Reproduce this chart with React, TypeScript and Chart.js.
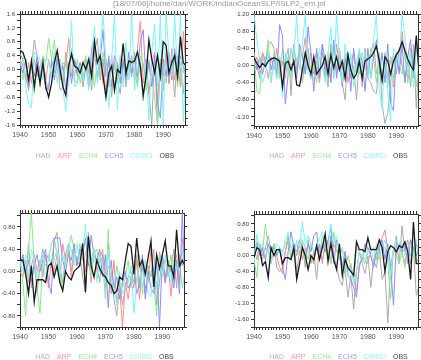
import React, { useEffect, useRef } from 'react';
import { Chart, registerables } from 'chart.js';
Chart.register(...registerables);

const TITLE = '[18/07/06]/home/dan/WORK/indianOceanSLP/ISLP2_em.jnl';
const SERIES_NAMES = ['HAD', 'ARP', 'ECH4', 'ECH5', 'CSIRO', 'OBS'];
const LINE_COLORS = ['#aaaaaa', '#ff8c8c', '#8ce68c', '#8c8cff', '#7af5f5', '#1a1a1a'];
const TEXT_COLORS = ['#b4b4b4', '#ff9a9a', '#9aeb9a', '#9a9aff', '#9af5f5', '#444444'];
const DRAW_ORDER = [5, 4, 3, 2, 1, 0];

const YEARS = [1940, 1941, 1942, 1943, 1944, 1945, 1946, 1947, 1948, 1949,
  1950, 1951, 1952, 1953, 1954, 1955, 1956, 1957, 1958, 1959,
  1960, 1961, 1962, 1963, 1964, 1965, 1966, 1967, 1968, 1969,
  1970, 1971, 1972, 1973, 1974, 1975, 1976, 1977, 1978, 1979,
  1980, 1981, 1982, 1983, 1984, 1985, 1986, 1987, 1988, 1989,
  1990, 1991, 1992, 1993, 1994, 1995, 1996, 1997, 1998];
const X_TICK_YEARS = [1940, 1941, 1942, 1943, 1944, 1945, 1946, 1947, 1948, 1949,
  1950, 1951, 1952, 1953, 1954, 1955, 1956, 1957, 1958, 1959,
  1960, 1961, 1962, 1963, 1964, 1965, 1966, 1967, 1968, 1969,
  1970, 1971, 1972, 1973, 1974, 1975, 1976, 1977, 1978, 1979,
  1980, 1981, 1982, 1983, 1984, 1985, 1986, 1987, 1988, 1989,
  1990, 1991, 1992, 1993, 1994, 1995, 1996, 1997];
const X_LABEL_YEARS = [1940, 1950, 1960, 1970, 1980, 1990];
const X_MIN = 1940;
const X_MAX = 1997.6;

// ---------- Top-left panel ----------
const TL_HAD = [0.45,0.30,-0.20,-0.60,0.10,0.85,0.40,-0.20,0.35,-0.30,
  -0.60,0.30,-0.10,0.40,-0.60,-0.50,0.50,-0.20,0.50,-0.30,
  -0.40,0.20,-0.50,0.10,0.20,-0.60,0.50,0.90,-0.30,0.30,
  -0.70,0.40,-0.80,0.20,-0.30,-0.70,0.30,-0.50,0.20,-0.20,
  0.50,-0.40,0.30,-0.90,-0.20,-0.70,-1.60,0.40,-1.60,0.20,
  -0.60,0.50,-0.40,0.30,-0.80,0.40,0.00,-0.70,0.30];
const TL_ARP = [0.30,0.10,-0.30,0.20,-0.40,0.30,-0.20,0.10,0.20,-0.30,
  0.30,-0.20,0.40,0.00,-0.30,0.20,0.10,0.90,-0.20,0.30,
  -0.20,0.10,-0.30,0.30,-0.10,0.40,0.60,-0.30,0.20,-0.40,
  0.30,-0.50,0.40,-0.60,0.20,-0.30,0.30,-0.20,0.10,0.40,
  -0.30,0.60,1.40,-0.40,0.30,-0.70,0.20,0.50,-0.90,0.30,
  -0.20,0.40,-0.40,0.60,-0.30,0.30,-0.50,1.10,0.00];
const TL_ECH4 = [0.30,-0.30,0.20,-0.40,0.10,-0.70,0.30,-0.50,0.40,0.20,
  0.90,0.30,0.85,-0.10,0.30,-0.40,0.20,-0.30,0.60,-0.20,
  0.30,-0.40,0.10,0.40,-0.30,0.20,-0.50,0.30,-0.20,0.50,
  -0.10,0.30,-0.60,0.20,-0.40,0.40,-0.30,0.10,-0.20,0.30,
  0.00,-0.50,0.40,0.20,-0.60,0.30,-0.20,-0.80,-1.60,0.30,
  0.10,-0.40,0.40,-0.20,0.30,-0.50,0.20,-0.10,0.30];
const TL_ECH5 = [0.20,-0.10,0.30,-0.50,0.20,-0.20,0.40,-0.30,0.10,-0.60,
  -0.50,0.20,-0.30,0.30,-0.20,0.10,-0.60,0.20,-0.40,0.30,
  -0.10,0.20,-0.30,0.10,-0.50,0.60,0.90,-0.20,0.30,1.15,
  -0.20,0.30,-0.50,0.40,0.10,-0.40,0.20,-0.30,0.50,-0.10,
  0.30,-0.20,0.80,1.15,-0.30,0.20,-0.50,0.40,-1.00,-1.40,
  0.30,-0.20,0.50,-0.30,0.60,-0.20,0.40,0.10,-0.20];
const TL_CSIRO = [0.60,0.50,-0.50,-1.00,-1.10,0.50,0.40,0.30,-0.30,0.30,
  0.30,-0.20,0.50,-0.40,0.30,-0.60,-1.20,-0.30,1.40,-0.50,
  -0.40,0.10,-0.30,0.20,-0.60,0.30,1.25,-0.40,0.60,1.60,
  0.20,-1.10,0.30,1.60,-1.15,0.40,-0.50,0.80,-0.30,1.60,
  -0.60,0.50,0.30,-0.90,0.20,-1.45,0.50,1.30,-0.50,1.60,
  -1.60,1.60,0.40,-0.20,1.60,-0.30,1.60,-1.50,0.40];
const TL_OBS = [0.54,0.50,0.25,-0.30,0.25,-0.50,0.10,-0.40,0.20,-0.50,
  -0.80,-0.40,0.20,0.55,0.00,-0.50,-0.75,0.10,0.45,0.10,
  0.05,-0.10,0.20,0.00,0.30,-0.20,0.80,0.20,0.40,-0.20,
  -0.80,-0.10,0.10,-0.60,0.00,-0.10,0.75,-0.10,0.25,0.20,
  0.25,0.50,0.10,-0.75,-0.20,0.85,0.30,-0.10,0.40,-0.20,
  0.80,0.70,-0.10,0.20,0.40,-0.20,0.95,0.20,0.10];
const TL_Y_TICKS = [-1.6,-1.4,-1.2,-1.0,-0.8,-0.6,-0.4,-0.2,0,0.2,0.4,0.6,0.8,1.0,1.2,1.4,1.6];
const TL_Y_LABELS = [-1.6,-1.2,-0.8,-0.4,0,0.4,0.8,1.2,1.6];

// ---------- Top-right panel ----------
const TR_HAD = [-0.10,0.00,-0.30,0.30,0.10,0.50,0.55,0.40,-0.20,0.20,
  -0.60,0.10,0.40,-0.70,0.50,-0.10,0.30,-0.40,0.20,0.40,
  -0.30,0.10,0.30,-0.20,0.50,0.10,-0.50,0.50,-0.30,0.50,
  0.00,-0.40,-0.80,0.30,-0.30,0.00,-0.80,0.20,-0.50,0.40,
  -0.30,-0.40,-0.60,-0.65,0.20,-0.90,-1.35,-1.10,-0.40,0.30,
  -0.20,0.40,0.00,-0.30,0.10,-0.50,0.50,-1.00,0.30];
const TR_ARP = [0.00,0.20,-0.20,0.30,0.10,-0.30,0.20,-0.10,0.40,-0.20,
  0.10,-0.30,0.20,0.00,0.10,-0.20,0.30,0.20,0.65,-0.10,
  0.30,-0.20,0.10,-0.40,0.30,-0.10,0.20,-0.30,0.50,-0.20,
  0.40,-0.10,0.20,-0.40,0.00,0.30,-0.20,0.10,-0.30,0.20,
  -0.10,0.30,0.55,-0.20,0.10,-0.40,0.30,-0.30,0.20,-0.50,
  0.30,-0.10,0.80,0.20,-0.30,0.40,-0.20,0.60,-0.10];
const TR_ECH4 = [0.30,-0.60,-0.65,0.20,0.00,0.60,-0.40,0.30,0.10,-0.30,
  0.40,-0.10,0.20,-0.30,0.35,0.10,0.35,0.30,-0.20,0.20,
  -0.30,0.10,-0.40,0.20,0.00,-0.30,0.30,-0.20,0.40,-0.10,
  0.20,-0.40,0.30,-0.10,0.20,-0.30,0.10,-0.20,0.30,0.00,
  -0.30,0.40,0.20,-0.40,0.30,-0.20,0.10,-0.50,0.20,-0.30,
  0.20,0.00,-0.20,0.30,-0.40,0.10,0.20,-0.50,0.10];
const TR_ECH5 = [0.30,-0.10,0.20,-0.20,0.10,0.30,-0.10,0.20,-0.30,0.95,
  0.70,-0.90,-0.20,0.40,0.10,-0.30,0.50,0.20,-0.20,0.90,
  0.30,-0.60,0.40,-0.30,0.50,-0.20,0.10,-0.40,0.60,-0.30,
  0.20,-0.50,0.10,0.30,-0.60,0.40,-0.20,0.30,0.10,-0.60,
  0.40,-0.30,0.20,0.60,-0.20,0.30,-0.40,0.50,-0.90,-1.05,
  0.30,-0.20,0.50,-0.40,0.20,0.60,-0.30,0.40,0.00];
const TR_CSIRO = [1.20,0.60,0.10,-0.40,-0.20,0.30,-0.40,0.10,-0.30,0.20,
  -0.75,0.30,-0.20,0.40,0.20,1.20,-0.10,0.50,1.20,-0.20,
  -0.30,0.20,-0.10,0.40,0.00,-0.40,0.30,0.90,-0.30,1.20,
  0.20,-0.40,0.50,-0.20,0.30,-0.50,0.10,0.40,-0.20,0.30,
  0.20,-0.30,0.60,1.20,-0.60,-1.00,0.30,-0.60,-1.30,0.40,
  0.30,0.00,1.20,0.70,-0.20,0.30,-0.50,0.50,-0.30];
const TR_OBS = [0.18,0.05,-0.05,0.05,-0.02,0.10,0.15,0.18,0.15,0.10,
  -0.50,0.05,0.10,-0.10,0.10,-0.45,-0.48,-0.10,0.30,0.00,
  -0.20,0.20,-0.20,-0.10,0.00,0.20,-0.20,0.25,-0.05,0.20,
  -0.10,0.10,-0.30,0.25,-0.10,-0.30,-0.20,0.10,-0.30,0.10,
  0.15,0.20,0.30,0.45,0.10,-0.35,0.20,0.10,-0.20,0.10,
  0.25,0.35,0.55,0.35,0.15,0.00,-0.10,0.70,-0.20];
const TR_Y_TICKS = [-1.4,-1.2,-1.0,-0.8,-0.6,-0.4,-0.2,0,0.2,0.4,0.6,0.8,1.0,1.2];
const TR_Y_LABELS = [-1.2,-0.8,-0.4,0,0.4,0.8,1.2];

// ---------- Bottom-left panel ----------
const BL_HAD = [0.10,0.30,-0.10,0.50,-0.30,0.20,-0.40,0.10,0.40,0.20,
  0.30,0.10,0.55,0.70,0.10,-0.20,0.30,0.50,0.00,0.40,
  0.20,0.35,-0.10,-0.40,0.70,0.20,0.40,0.10,-0.20,0.30,
  -0.30,0.10,0.00,-0.50,-0.80,-0.20,-0.60,-0.30,-0.10,0.00,
  -0.20,0.30,-0.30,0.20,-0.40,0.10,-0.10,0.40,-0.60,-0.20,
  0.30,-0.10,0.20,0.00,0.40,-0.30,0.30,0.10,0.50];
const BL_ARP = [0.00,-0.10,0.20,-0.20,0.10,0.30,0.00,0.20,-0.10,0.30,
  -0.30,0.20,0.00,0.30,-0.20,0.50,0.20,0.40,-0.10,0.30,
  0.20,0.10,0.50,0.00,0.30,-0.20,0.40,0.00,0.20,0.40,
  -0.10,0.50,-0.40,0.20,-0.60,-0.30,-1.00,-0.20,-0.50,-0.10,
  -0.30,0.20,-0.50,0.10,-0.30,-0.20,0.40,-0.10,-0.30,0.35,
  0.10,-0.20,0.20,-0.45,0.10,0.30,-0.20,0.60,0.10];
const BL_ECH4 = [0.20,-0.20,-0.80,0.40,1.05,0.10,-0.30,-0.75,0.20,0.10,
  0.20,0.50,0.60,0.30,0.00,-0.30,0.20,0.35,0.65,0.40,
  0.10,0.50,0.20,0.30,0.60,-0.10,0.30,0.40,0.00,0.20,
  -0.50,0.75,-0.30,-0.40,0.10,-0.20,-0.30,-0.10,0.20,-0.30,
  0.10,-0.20,0.30,-0.40,0.20,-0.10,0.00,-0.20,-0.80,0.30,
  0.00,0.20,-0.10,0.30,-0.20,0.10,0.20,-0.30,0.00];
const BL_ECH5 = [0.10,0.30,0.00,0.20,-0.20,0.10,0.30,0.00,0.20,0.40,
  -0.20,-0.40,0.60,0.60,0.60,0.20,0.00,0.30,0.20,0.50,
  0.10,0.40,0.30,0.60,0.10,0.65,0.30,0.20,0.40,-0.10,
  0.30,-0.65,0.20,-0.30,-0.10,-0.50,-0.20,0.00,-0.30,-0.20,
  0.10,-0.40,-0.20,0.30,-0.50,0.00,-0.30,-0.40,0.20,-1.00,
  0.30,-0.20,0.10,0.00,-0.30,0.20,-0.40,1.05,-0.20];
const BL_CSIRO = [0.20,0.00,0.30,-0.10,0.40,0.20,-0.10,0.10,0.30,-0.20,
  0.30,0.10,0.20,0.40,-0.10,0.30,0.10,0.50,0.40,0.10,
  0.50,0.20,0.30,0.85,0.20,0.10,0.40,-0.20,0.30,0.10,
  -0.20,0.40,-0.10,-0.30,-0.60,0.00,-0.40,-0.30,-0.20,0.10,
  -0.75,-0.20,0.10,-0.30,0.20,-0.40,-0.45,0.10,-0.30,0.20,
  -0.10,0.30,0.10,-0.20,0.20,0.00,0.30,0.40,-0.20];
const BL_OBS = [0.20,0.20,-0.05,-0.40,0.10,-0.55,-0.15,-0.15,-0.15,-0.20,
  0.10,0.15,-0.10,0.10,-0.20,-0.35,0.00,-0.10,-0.15,0.00,
  0.05,0.10,0.50,-0.37,0.63,0.10,-0.10,0.20,0.05,-0.05,
  -0.10,-0.20,-0.25,-0.40,-0.35,-0.10,-0.15,0.20,0.50,0.45,
  -0.05,0.60,0.10,0.20,-0.05,0.25,0.55,-0.28,0.30,0.05,
  0.30,0.55,0.10,0.10,-0.10,0.75,0.10,0.20,0.10];
const BL_Y_TICKS = [-1.0,-0.8,-0.6,-0.4,-0.2,0,0.2,0.4,0.6,0.8,1.0];
const BL_Y_LABELS = [-0.8,-0.4,0,0.4,0.8];

// ---------- Bottom-right panel ----------
const BR_HAD = [0.00,0.35,0.20,-0.10,0.20,0.50,0.10,0.30,-0.30,-0.40,
  -0.30,0.10,0.50,-0.10,0.30,-0.40,0.10,0.30,-0.30,0.40,
  -0.20,0.10,-0.60,0.30,-0.20,0.40,-0.10,0.50,0.00,-0.30,
  -0.60,-0.75,-0.30,-1.05,-0.50,-1.35,-0.40,0.10,-0.20,-0.45,
  0.00,-0.80,-0.10,-0.30,0.20,-0.60,-0.40,-1.70,-0.20,0.10,
  0.50,-0.20,0.75,0.10,0.40,-0.20,0.20,-1.00,-0.75];
const BR_ARP = [0.20,-0.10,0.30,0.00,0.20,0.10,-0.10,0.20,0.00,-0.30,
  -0.45,0.10,0.40,0.20,0.30,0.00,0.30,-0.10,0.20,0.10,
  0.00,-0.20,0.30,0.10,-0.10,0.20,0.40,-0.20,0.30,0.10,
  0.20,-0.30,0.10,-0.40,-0.20,-0.60,-0.90,-0.30,0.00,-0.10,
  -0.20,0.10,0.20,-0.10,0.30,0.45,0.65,0.10,-0.50,0.20,
  0.00,0.30,0.10,-0.20,0.20,0.40,0.00,0.30,-0.10];
const BR_ECH4 = [-0.10,-0.55,0.30,0.10,0.80,0.20,-0.20,0.30,0.00,0.20,
  0.10,0.30,0.40,-0.10,0.20,0.30,0.00,0.40,0.20,-0.10,
  0.30,0.10,0.20,0.00,0.50,0.30,0.10,-0.20,0.60,0.20,
  -0.10,0.20,-0.40,0.00,-0.30,-0.60,0.20,0.10,-0.10,-0.20,
  0.20,0.00,-0.20,0.10,-0.10,0.30,0.20,-0.20,-1.10,0.20,
  0.00,-0.20,0.10,-0.30,0.20,0.00,0.10,-0.20,0.00];
const BR_ECH5 = [0.10,0.30,0.00,0.20,-0.10,0.30,0.10,0.20,0.00,0.20,
  -0.30,-0.60,0.10,0.60,0.20,0.10,0.40,0.20,0.00,0.30,
  0.10,0.50,0.60,-0.10,0.30,0.10,0.35,0.75,-0.20,0.40,
  0.20,-0.30,0.10,-0.50,-0.60,-0.80,-1.05,-0.20,-0.10,0.30,
  0.20,0.00,-0.30,0.10,0.20,0.40,-0.10,0.30,-0.30,-1.25,
  0.35,0.20,0.10,0.30,-0.20,0.40,0.20,0.00,0.20];
const BR_CSIRO = [-0.20,0.55,0.10,0.30,0.00,0.20,-0.20,0.10,0.30,0.20,
  0.00,0.40,0.60,0.20,0.00,0.40,0.20,0.85,0.30,0.50,
  0.30,0.10,0.20,0.45,0.60,0.30,0.20,0.80,0.30,0.50,
  0.10,0.20,-0.20,-0.50,-0.30,-0.70,-0.40,0.10,0.00,-0.20,
  0.10,0.20,-0.10,0.30,0.00,0.20,0.40,0.10,-0.50,0.20,
  0.40,0.10,0.30,0.00,0.20,0.30,0.00,0.40,-0.10];
const BR_OBS = [-0.05,0.20,0.15,-0.25,-0.15,-0.55,0.20,0.00,0.15,0.15,
  -0.20,-0.05,-0.05,-0.10,0.20,-0.60,-0.20,0.20,0.00,-0.35,
  0.00,-0.10,0.25,-0.10,0.20,0.55,-0.15,0.30,-0.10,-0.35,
  0.30,-0.50,-0.10,-0.30,-0.40,-0.50,0.35,0.15,0.15,0.10,
  0.45,0.15,0.15,0.15,0.40,0.20,-0.40,0.10,0.25,0.20,
  0.10,0.25,0.20,0.35,0.10,-0.60,0.85,-0.20,-0.20];
const BR_Y_TICKS = [-1.8,-1.6,-1.4,-1.2,-1.0,-0.8,-0.6,-0.4,-0.2,0,0.2,0.4,0.6,0.8,1.0];
const BR_Y_LABELS = [-1.6,-1.2,-0.8,-0.4,0,0.4,0.8];

const SANS = '"Liberation Sans", Arial, sans-serif';
const AXIS_COLOR = '#333333';

type PanelCfg = {
  left: number; top: number; w: number; h: number;
  padding: { left: number; right: number; top: number; bottom: number };
  yW: number; xH: number;
  yMin: number; yMax: number; yTicks: number[]; yLabels: number[]; decimals: number;
  series: number[][];
};

const PANELS: PanelCfg[] = [
  { left: 0, top: 0, w: 210, h: 180, padding: { left: 0, right: 22, top: 11, bottom: 10 }, yW: 20, xH: 25,
    yMin: -1.6, yMax: 1.6, yTicks: TL_Y_TICKS, yLabels: TL_Y_LABELS, decimals: 1,
    series: [TL_HAD, TL_ARP, TL_ECH4, TL_ECH5, TL_CSIRO, TL_OBS] },
  { left: 210, top: 0, w: 211, h: 180, padding: { left: 20, right: 0, top: 11, bottom: 10 }, yW: 24, xH: 24,
    yMin: -1.41, yMax: 1.2, yTicks: TR_Y_TICKS, yLabels: TR_Y_LABELS, decimals: 2,
    series: [TR_HAD, TR_ARP, TR_ECH4, TR_ECH5, TR_CSIRO, TR_OBS] },
  { left: 0, top: 180, w: 210, h: 180, padding: { left: 0, right: 23, top: 30, bottom: -11 }, yW: 20, xH: 24,
    yMin: -1.0, yMax: 1.05, yTicks: BL_Y_TICKS, yLabels: BL_Y_LABELS, decimals: 2,
    series: [BL_HAD, BL_ARP, BL_ECH4, BL_ECH5, BL_CSIRO, BL_OBS] },
  { left: 210, top: 180, w: 211, h: 180, padding: { left: 20, right: 0, top: 31, bottom: -11 }, yW: 24, xH: 24,
    yMin: -1.8, yMax: 1.05, yTicks: BR_Y_TICKS, yLabels: BR_Y_LABELS, decimals: 2,
    series: [BR_HAD, BR_ARP, BR_ECH4, BR_ECH5, BR_CSIRO, BR_OBS] },
];

function Panel({ cfg }: { cfg: PanelCfg }) {
  const ref = useRef<HTMLCanvasElement>(null);
  useEffect(() => {
    if (!ref.current) return;
    const datasets = DRAW_ORDER.map((i) => ({
      label: SERIES_NAMES[i],
      data: YEARS.map((yr, k) => ({ x: yr, y: cfg.series[i][k] })),
      borderColor: LINE_COLORS[i],
      backgroundColor: LINE_COLORS[i],
      borderWidth: i === 5 ? 1.3 : 1,
      pointRadius: 0,
      tension: 0,
      fill: false,
    }));
    const xTicks = (s: any) => { s.ticks = X_TICK_YEARS.map((v) => ({ value: v })); };
    const yTicks = (s: any) => { s.ticks = cfg.yTicks.map((v) => ({ value: v })); };
    const grid = { drawOnChartArea: false, drawTicks: true, tickLength: 3, color: AXIS_COLOR, tickColor: AXIS_COLOR, tickWidth: 1 };
    const border = { display: true, color: AXIS_COLOR, width: 1 };
    const chart = new Chart(ref.current, {
      type: 'line',
      data: { datasets } as any,
      options: {
        animation: false,
        responsive: false,
        events: [],
        layout: { padding: cfg.padding },
        plugins: {
          tooltip: { enabled: false },
          legend: {
            position: 'bottom',
            fullSize: false,
            align: 'center',
            onClick: () => {},
            labels: {
              boxWidth: 1.5,
              boxHeight: 8,
              padding: 2,
              font: { family: SANS, size: 7 },
              generateLabels: () => SERIES_NAMES.map((n, i) => ({
                text: n,
                fontColor: TEXT_COLORS[i],
                fillStyle: 'rgba(0,0,0,0)',
                strokeStyle: 'rgba(0,0,0,0)',
                lineWidth: 0,
                hidden: false,
                datasetIndex: DRAW_ORDER.indexOf(i),
              })),
            },
          },
        },
        scales: {
          x: {
            type: 'linear', position: 'bottom', min: X_MIN, max: X_MAX,
            afterBuildTicks: xTicks,
            afterFit: (s: any) => { s.height = cfg.xH; },
            grid, border,
            ticks: {
              autoSkip: false, maxRotation: 0, minRotation: 0, padding: 3, color: '#555555',
              font: { family: SANS, size: 7 },
              callback: (v: any) => (X_LABEL_YEARS.indexOf(Number(v)) >= 0 ? String(v) : ''),
            },
          },
          x2: {
            type: 'linear', position: 'top', min: X_MIN, max: X_MAX,
            afterBuildTicks: xTicks,
            afterFit: (s: any) => { s.height = 3; },
            grid, border,
            ticks: { display: false, autoSkip: false },
          },
          y: {
            type: 'linear', position: 'left', min: cfg.yMin, max: cfg.yMax,
            afterBuildTicks: yTicks,
            afterFit: (s: any) => { s.width = cfg.yW; },
            grid, border,
            ticks: {
              autoSkip: false, padding: 2, color: '#444444',
              font: { family: SANS, size: 6 },
              callback: (v: any) => {
                const n = Number(v);
                return cfg.yLabels.some((l) => Math.abs(l - n) < 1e-6) ? n.toFixed(cfg.decimals) : '';
              },
            },
          },
          y2: {
            type: 'linear', position: 'right', min: cfg.yMin, max: cfg.yMax,
            afterBuildTicks: yTicks,
            afterFit: (s: any) => { s.width = 3; },
            grid, border,
            ticks: { display: false, autoSkip: false },
          },
        },
      } as any,
    });
    return () => chart.destroy();
  }, [cfg]);
  return (
    <canvas
      ref={ref}
      width={cfg.w}
      height={cfg.h}
      style={{ position: 'absolute', left: cfg.left, top: cfg.top, width: cfg.w, height: cfg.h }}
    />
  );
}

export default function App() {
  return (
    <div style={{ position: 'absolute', left: 0, top: 0, width: 421, height: 360, overflow: 'hidden', background: '#ffffff' }}>
      {PANELS.map((p, i) => <Panel key={i} cfg={p} />)}
      <div style={{ position: 'absolute', left: 113, top: -1, whiteSpace: 'nowrap', fontFamily: SANS, fontSize: 8, color: '#9a9a9a', lineHeight: '10px' }}>
        {TITLE}
      </div>
    </div>
  );
}
